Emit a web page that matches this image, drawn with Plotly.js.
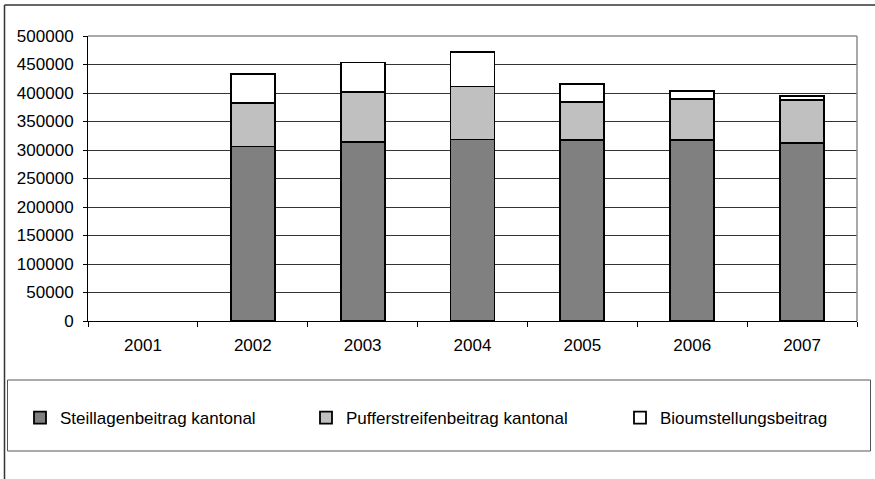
<!DOCTYPE html>
<html>
<head>
<meta charset="utf-8">
<script src="https://cdn.plot.ly/plotly-3.0.1.min.js"></script>
<style>html,body{margin:0;padding:0;background:#fff;}#chart{width:875px;height:479px;}</style>
</head>
<body>
<div id="chart"></div>
<script>
const years = ['2001', '2002', '2003', '2004', '2005', '2006', '2007'];
const steillagen = [null, 306000, 314500, 318500, 317000, 317000, 312000];
const pufferstreifen = [null, 76000, 87500, 93000, 67000, 72000, 76000];
const bioumstellung = [null, 51000, 51500, 60500, 32000, 15000, 7000];
const seriesNames = ['Steillagenbeitrag kantonal', 'Pufferstreifenbeitrag kantonal', 'Bioumstellungsbeitrag'];

const W = 875, H = 479;
const M = {l: 88, r: 18, t: 36, b: 158};
const pw = W - M.l - M.r, ph = H - M.t - M.b;
const px = v => (v - M.l) / pw;
const py = v => (H - M.b - v) / ph;

const font = {family: 'Liberation Sans, Arial, sans-serif', size: 17, color: '#000'};

function bar(name, y, color, legend) {
  return {
    type: 'bar', x: years, y: y, name: name, legend: legend, showlegend: true,
    marker: {color: color, line: {color: '#000', width: 1.8}},
    hoverinfo: 'x+y+name'
  };
}

const data = [
  bar(seriesNames[0], steillagen, '#808080', 'legend2'),
  bar(seriesNames[1], pufferstreifen, '#c0c0c0', 'legend3'),
  bar(seriesNames[2], bioumstellung, '#ffffff', 'legend4')
];

const legendBase = {orientation: 'h', yanchor: 'middle', xanchor: 'left', y: py(418),
  bgcolor: 'rgba(0,0,0,0)', borderwidth: 0, font: font, itemwidth: 30, visible: true};

const layout = {
  width: W, height: H, autosize: false,
  margin: M,
  paper_bgcolor: '#fff', plot_bgcolor: '#fff',
  font: font,
  barmode: 'stack', bargap: 0.6,
  showlegend: true,
  xaxis: {
    type: 'category', tickson: 'boundaries', ticks: 'outside', ticklen: 5, tickcolor: '#000',
    showline: true, linecolor: '#000', linewidth: 1, showgrid: false,
    ticklabelstandoff: 9, tickfont: font
  },
  yaxis: {
    range: [0, 500000], dtick: 50000, tickformat: 'd', ticks: 'outside', ticklen: 4, tickcolor: '#000',
    showline: true, linecolor: '#000', linewidth: 1, showgrid: true, gridcolor: '#333', gridwidth: 1,
    zeroline: false, tickfont: font, ticklabelstandoff: 6
  },
  legend2: Object.assign({}, legendBase, {x: px(20)}),
  legend3: Object.assign({}, legendBase, {x: px(306)}),
  legend4: Object.assign({}, legendBase, {x: px(620)}),
  shapes: [
    {type: 'line', xref: 'paper', yref: 'paper', x0: 0, x1: 1, y0: 1, y1: 1, line: {color: '#8c8c8c', width: 1.5}, layer: 'above'},
    {type: 'line', xref: 'paper', yref: 'paper', x0: 1, x1: 1, y0: 0, y1: 1, line: {color: '#8c8c8c', width: 1.5}, layer: 'above'},
    {type: 'rect', xref: 'paper', yref: 'paper', x0: px(7.5), x1: px(870.5), y0: py(451), y1: py(380), line: {color: '#555', width: 1}, layer: 'below'},
    {type: 'line', xref: 'paper', yref: 'paper', x0: px(4.5), x1: px(880), y0: py(5), y1: py(5), line: {color: '#333', width: 1.5}},
    {type: 'line', xref: 'paper', yref: 'paper', x0: px(4.5), x1: px(4.5), y0: py(5), y1: py(485), line: {color: '#333', width: 1.5}}
  ]
};

Plotly.newPlot('chart', data, layout, {displayModeBar: false, staticPlot: true});
</script>
</body>
</html>
